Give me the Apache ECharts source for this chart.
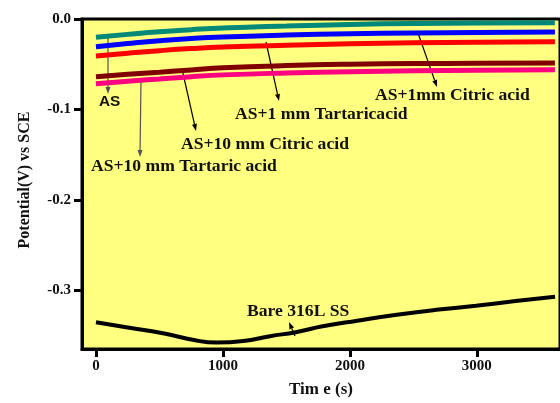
<!DOCTYPE html>
<html>
<head>
<meta charset="utf-8">
<script src="https://cdn.jsdelivr.net/npm/echarts@6/dist/echarts.min.js"></script>
<style>
    html,body{margin:0;padding:0;background:#fff;}
    #chartBox{width:560px;height:403px;}
</style>
</head>
<body>
<div id="chartBox"></div>
<script>
    'use strict';

    // 时间 (s)
    var timeAcid = [0, 250, 500, 750, 1000, 1500, 2000, 2500, 3000, 3615];
    var timeBare = [0, 226, 538, 772, 951, 1161, 1372, 1574, 1785, 2058, 2369, 2681, 2993, 3305, 3616];

    // 电位 (V vs SCE)
    var asVals = [-0.0203, -0.0170, -0.0140, -0.0118, -0.0100, -0.0078, -0.0060, -0.0050, -0.0045, -0.0042];
    var citric1Vals = [-0.0308, -0.0272, -0.0240, -0.0215, -0.0198, -0.0178, -0.0164, -0.0155, -0.0150, -0.0145];
    var tartaric1Vals = [-0.0410, -0.0378, -0.0350, -0.0327, -0.0310, -0.0290, -0.0275, -0.0264, -0.0258, -0.0253];
    var citric10Vals = [-0.0638, -0.0612, -0.0588, -0.0563, -0.0540, -0.0515, -0.0500, -0.0493, -0.0490, -0.0488];
    var tartaric10Vals = [-0.0717, -0.0688, -0.0663, -0.0638, -0.0618, -0.0597, -0.0583, -0.0573, -0.0567, -0.0562];
    var bareVals = [-0.3355, -0.3406, -0.3478, -0.3551, -0.3579, -0.3562, -0.3508, -0.3464, -0.3399, -0.3337, -0.3272, -0.3217, -0.3171, -0.3120, -0.3073];

    var xTicks = [0, 1000, 2000, 3000];
    var yTicks = [-0.3, -0.2, -0.1, 0];

    var serifFont = '"Liberation Serif", "DejaVu Serif", serif';

    function pairs(xs, ys) {
        return xs.map(function (x, i) { return [x, ys[i]]; });
    }

    function lineSeries(name, color, width, xs, ys) {
        return {
            name: name,
            type: 'line',
            smooth: true,
            symbol: 'none',
            lineStyle: {color: color, width: width},
            data: pairs(xs, ys)
        };
    }

    // 注释文字 + 箭头
    function label(text, x, y, font) {
        return {
            type: 'text', x: x, y: y, scaleX: 1.1,
            style: Object.assign({text: text, fontSize: 16, fill: '#111',
                fontFamily: serifFont, fontWeight: 'bold'}, font || {})
        };
    }
    function arrow(x1, y1, x2, y2, color) {
        var ang = Math.atan2(y2 - y1, x2 - x1), len = 7, w = 2.5;
        var bx = x2 - len * Math.cos(ang), by = y2 - len * Math.sin(ang);
        var px = -Math.sin(ang) * w, py = Math.cos(ang) * w;
        return [
            {type: 'line', shape: {x1: x1, y1: y1, x2: bx, y2: by}, style: {stroke: color || '#000', lineWidth: 1.2}},
            {type: 'polygon', shape: {points: [[x2, y2], [bx + px, by + py], [bx - px, by - py]]}, style: {fill: color || '#000'}}
        ];
    }

    var graphics = [
        label('AS', 99, 95, {fontFamily: '"Liberation Sans", Arial, sans-serif', fontSize: 14}),
        label('AS+1mm Citric acid', 375, 88),
        label('AS+1 mm Tartaricacid', 235, 107),
        label('AS+10 mm Citric acid', 181, 137),
        label('AS+10 mm Tartaric acid', 91, 159),
        label('Bare 316L SS', 247, 304),
        // 纵轴标题
        {
            type: 'text', x: 25, y: 180, rotation: Math.PI / 2,
            style: {text: 'Potential(V) vs SCE', fontSize: 16, fill: '#111', fontFamily: serifFont,
                fontWeight: 'bold', align: 'center', verticalAlign: 'middle'}
        }
    ].concat(
        arrow(108, 38, 108, 94, '#555'),
        arrow(418, 33, 437, 87),
        arrow(266, 42, 279, 101),
        arrow(182, 69, 196, 131),
        arrow(141, 80, 140, 157, '#555'),
        arrow(295, 336, 289, 322)
    );

    var myChart = echarts.init(document.getElementById('chartBox'), null, {renderer: 'canvas'});
    var option = {
        animation: false,
        backgroundColor: '#fff',
        grid: {
            left: 82, top: 19, right: -5, bottom: 48,
            show: true, backgroundColor: '#ffff80',
            borderColor: '#000', borderWidth: 3
        },
        xAxis: {
            type: 'value',
            min: -110, max: 3655,
            name: 'Tim e (s)',
            nameLocation: 'middle',
            nameGap: 32,
            nameTextStyle: {fontSize: 17, fontFamily: serifFont, fontWeight: 'bold', color: '#111'},
            axisLine: {onZero: false, lineStyle: {color: '#000', width: 3}},
            axisTick: {show: true, length: 8, lineStyle: {width: 3, color: '#000'}, customValues: xTicks},
            axisLabel: {customValues: xTicks, margin: 10, fontSize: 15,
                fontFamily: serifFont, fontWeight: 'bold', color: '#111',
                formatter: function (v) { return String(v); }},
            splitLine: {show: false}
        },
        yAxis: {
            type: 'value',
            min: -0.365, max: 0,
            axisLine: {onZero: false, lineStyle: {color: '#000', width: 3}},
            axisTick: {show: true, length: 8, lineStyle: {width: 3, color: '#000'}, customValues: yTicks},
            axisLabel: {customValues: yTicks, margin: 11, fontSize: 15,
                fontFamily: serifFont, fontWeight: 'bold', color: '#111',
                formatter: function (v) { return v === 0 ? '0.0' : v.toFixed(1); }},
            splitLine: {show: false}
        },
        series: [
            lineSeries('AS', '#008878', 5, timeAcid, asVals),
            lineSeries('AS+1mm Citric acid', '#0000ff', 5, timeAcid, citric1Vals),
            lineSeries('AS+1 mm Tartaricacid', '#ff0000', 5, timeAcid, tartaric1Vals),
            lineSeries('AS+10 mm Citric acid', '#800000', 5, timeAcid, citric10Vals),
            lineSeries('AS+10 mm Tartaric acid', '#ff0080', 5, timeAcid, tartaric10Vals),
            lineSeries('Bare 316L SS', '#000', 4, timeBare, bareVals)
        ],
        graphic: graphics
    };
    myChart.setOption(option);
</script>
</body>
</html>
